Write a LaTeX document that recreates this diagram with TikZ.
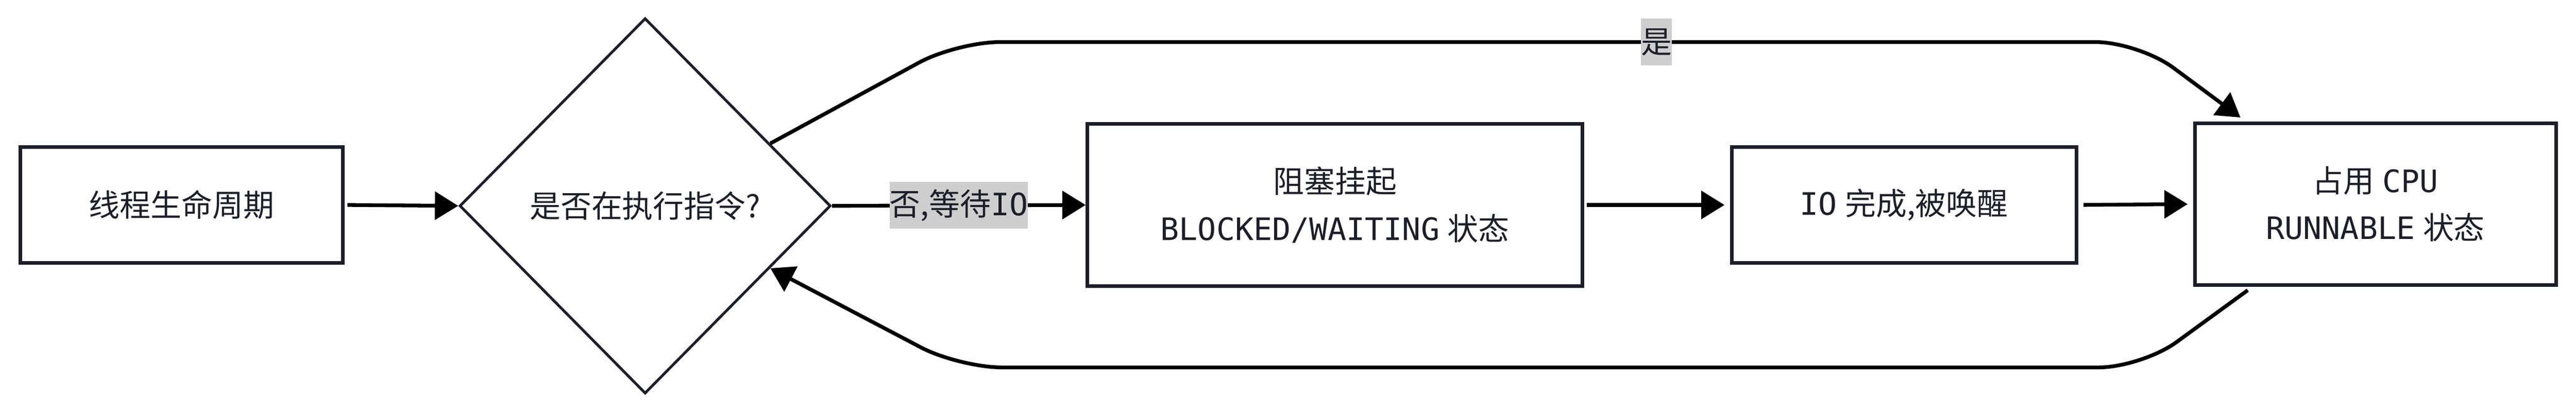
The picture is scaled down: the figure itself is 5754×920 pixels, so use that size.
\documentclass[tikz,border=0pt]{standalone}
\usepackage{fontspec}
\setmainfont{DejaVu Sans Mono}
\newfontfamily\cjk{Noto Sans CJK SC}
\usetikzlibrary{arrows.meta,shapes.geometric,calc}
\definecolor{ink}{RGB}{30,30,42}
\definecolor{lblgray}{RGB}{206,206,206}
\newcommand{\gapsp}{\hspace{4.5pt}}
\tikzset{
  base/.style={draw=ink, line width=2pt, fill=white, text=ink, inner sep=0pt,
    align=center, font=\fontsize{17.25pt}{26.25pt}\selectfont},
  stbox/.style={base, rectangle},
  decide/.style={base, diamond, line width=1.5pt},
  conn/.style={draw=black, line width=2.1pt, -{Triangle[length=13pt,width=15.5pt]}},
  lbl/.style={sharp corners, fill=lblgray, text=ink, inner xsep=0pt, inner ysep=0pt, minimum height=26.25pt,
    font=\fontsize{17.25pt}{26.25pt}\selectfont},
}
\begin{document}
\begin{tikzpicture}[x=0.25pt, y=-0.25pt]
\fill[white] (0,0) rectangle (5754,920);
\useasboundingbox (0,0) rectangle (5754,920);

\node[stbox, minimum width=180pt, minimum height=64.5pt] (b1) at (406,458) {\cjk 线程生命周期};
\node[decide, minimum width=207.25pt, minimum height=209.75pt] (d) at (1441,460) {\cjk 是否在执行指令?};
\node[stbox, minimum width=276.5pt, minimum height=90.75pt] (b2) at (2982,458) {{\cjk 阻塞挂起}\\BLOCKED/WAITING\gapsp{\cjk 状态}};
\node[stbox, minimum width=192.5pt, minimum height=64.5pt] (b3) at (4253,458) {IO\gapsp{\cjk 完成,被唤醒}};
\node[stbox, minimum width=201.75pt, minimum height=90.25pt] (b4) at (5306,456) {{\cjk 占用}\gapsp CPU\\RUNNABLE\gapsp{\cjk 状态}};

\coordinate (tl) at (2137,94);
\coordinate (tr) at (4777,94);
\coordinate (bl) at (2142,821);
\coordinate (br) at (4784,821);

\draw[conn, shorten <=1.5pt] (b1.east) -- (d.west);
\draw[conn] (d.east) -- node[lbl] {{\cjk 否,等待}IO} (b2.west);
\draw[conn, shorten <=1.5pt, shorten >=3pt] (b2.east) -- (b3.west);
\draw[conn, shorten <=3pt, shorten >=3pt] (b3.east) -- (b4.west);

\draw[conn, rounded corners=24pt] ($(d.north)!0.67!(d.east)$) -- (tl) -- node[lbl, pos=0.592] {\cjk 是} (tr) -- ([yshift=2.25pt]$(b4.north west)!0.13!(b4.north east)$);
\draw[conn, rounded corners=24pt] ([yshift=-2pt]$(b4.south west)!0.15!(b4.south east)$) -- (br) -- (bl) -- ($(d.east)!0.33!(d.south)$);
\end{tikzpicture}
\end{document}
